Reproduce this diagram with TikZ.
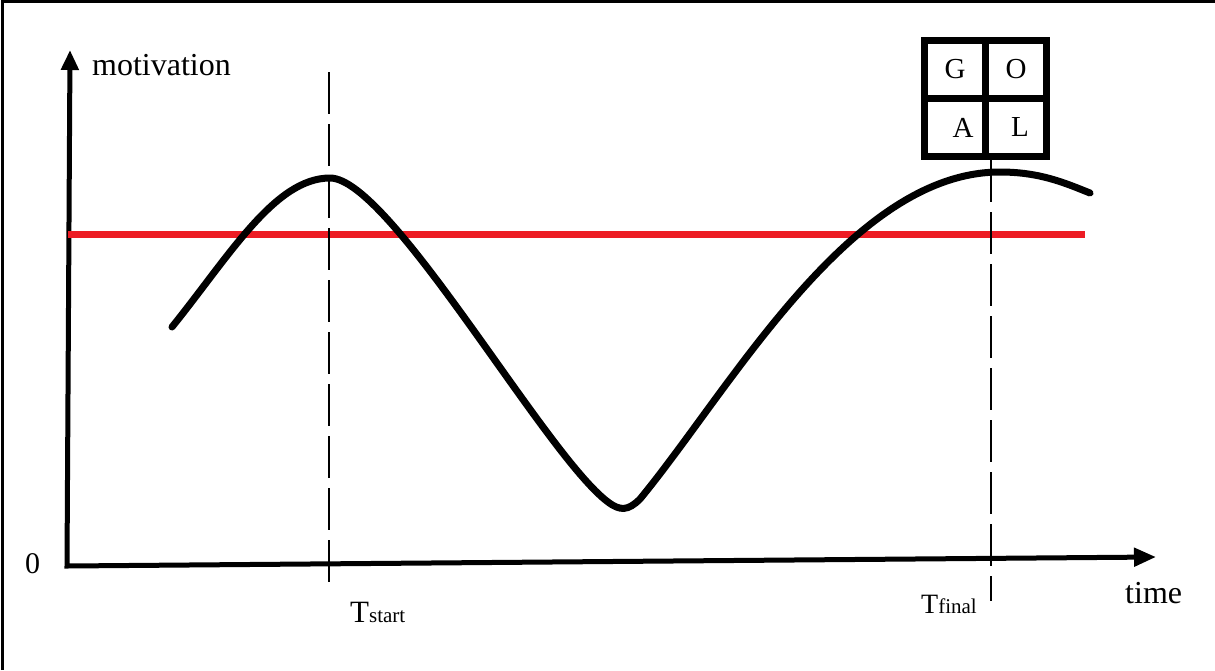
\documentclass[tikz,border=0pt]{standalone}
\usepackage{fontspec}
\setmainfont{Liberation Serif}
\usetikzlibrary{arrows.meta, positioning}
\definecolor{goalred}{RGB}{237,28,36}

\begin{document}
\begin{tikzpicture}[x=1pt, y=-1pt,
        axis/.style={line width=5pt, line join=miter},
        curve/.style={line width=7pt, line cap=round, line join=round},
        guide/.style={line width=1.3pt, dash pattern=on 42pt off 10pt},
        cell/.style={draw, line width=7pt, minimum width=61pt, minimum height=58pt,
            inner sep=0pt, font=\fontsize{29}{32}\selectfont},
        txt/.style={inner sep=0pt, anchor=base west}]
        \useasboundingbox (0,0) rectangle (1215,670);

        % Frame
        \draw[line width=3.5pt] (2.5,670) -- (2.5,1.5) -- (1215,1.5);

        % Axes
        \coordinate (origin) at (67,566);
        \coordinate (ytop) at (70,50);
        \coordinate (xend) at (1156,557);
        \draw[axis, {Triangle[length=20pt, width=17pt]}-{Triangle[length=22pt, width=18pt]}]
            (ytop) -- (origin) -- (xend);
        \node[txt, font=\fontsize{32}{36}\selectfont] (motiv) at (92,75) {motivation};
        \node[txt, font=\fontsize{32}{36}\selectfont] (time) at (1125,603) {time};
        \node[txt, font=\fontsize{30}{34}\selectfont] (zero) at (25,573) {0};

        % Threshold
        \coordinate (redL) at (68,234);
        \coordinate (redR) at (1085,234);
        \draw[goalred, line width=7pt] (redL) -- (redR);

        % Motivation curve
        \draw[curve] (172,327) .. controls (230,255) and (275,178) .. (330,178)
            .. controls (390,178) and (545,455) .. (608,502)
            .. controls (620,511) and (628,511) .. (640,499)
            .. controls (730,390) and (850,172) .. (1000,172)
            .. controls (1040,172) and (1065,183) .. (1090,193);

        % Time marks
        \coordinate (startTop) at (329,72);
        \coordinate (startBot) at (329,588);
        \coordinate (finalTop) at (991,160);
        \coordinate (finalBot) at (991,601);
        \draw[guide] (startTop) -- (startBot);
        \draw[guide] (finalTop) -- (finalBot);
        \node[txt, font=\fontsize{31}{34}\selectfont] (tstart) at (350,622)
            {T{\fontsize{21}{24}\selectfont start}};
        \node[txt, font=\fontsize{28}{30}\selectfont] (tfinal) at (921,613)
            {T{\fontsize{21}{24}\selectfont final}};

        % Goal box
        \node[cell] (g) at (955,69.5) {G};
        \node[cell] (o) at (1016,69.5) {O};
        \node[cell] (a) at (955,127.5) {\hspace*{16pt}A};
        \node[cell] (l) at (1016,127.5) {\hspace*{8pt}L};
    \end{tikzpicture}
\end{document}
